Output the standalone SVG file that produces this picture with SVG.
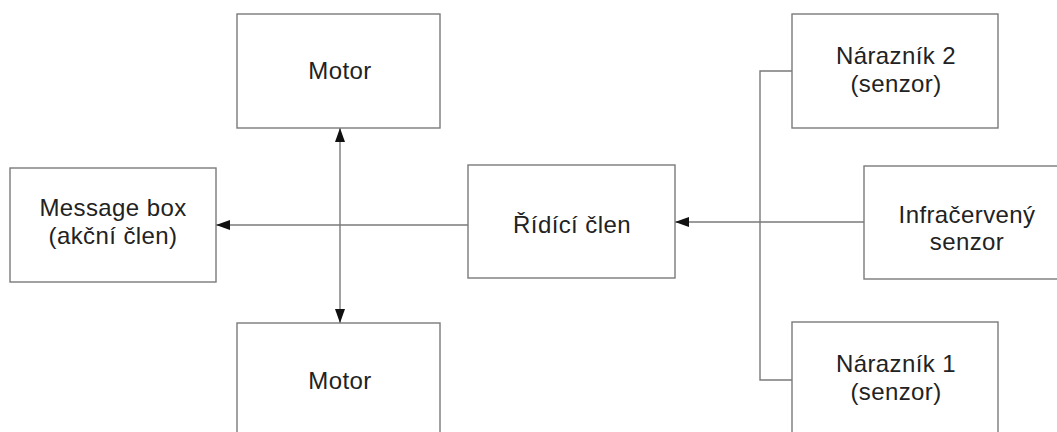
<svg xmlns="http://www.w3.org/2000/svg" width="1057" height="432" viewBox="0 0 1057 432">
  <style>
    .box { fill: #ffffff; stroke: #7a7a7a; stroke-width: 1.4; }
    .lbl { font-family: "Liberation Sans", Arial, sans-serif; font-size: 24px; letter-spacing: 0.4px; fill: #222222; text-anchor: middle; }
    .wire { fill: none; stroke: #7a7a7a; stroke-width: 1.4; }
  </style>
  <defs>
    <marker id="arrow" viewBox="0 0 14 10" refX="14" refY="5" markerWidth="14" markerHeight="10" markerUnits="userSpaceOnUse" orient="auto-start-reverse">
      <path d="M0,0 L14,5 L0,10 Z" fill="#111111"/>
    </marker>
  </defs>

  <rect width="1057" height="432" fill="#ffffff"/>

  <!-- connectors -->
  <g id="connectors">
    <!-- control unit to message box -->
    <line class="wire" x1="468" y1="225" x2="216" y2="225" marker-end="url(#arrow)"/>
    <!-- motor link, arrows at both ends -->
    <line class="wire" x1="340" y1="128" x2="340" y2="323" marker-start="url(#arrow)" marker-end="url(#arrow)"/>
    <!-- sensor bus -->
    <polyline class="wire" points="792,71 760,71 760,380 792,380"/>
    <line class="wire" x1="864" y1="222" x2="675" y2="222" marker-end="url(#arrow)"/>
  </g>

  <g id="motor-top">
    <rect class="box" x="237" y="14" width="203" height="114"/>
    <text class="lbl" x="340" y="79">Motor</text>
  </g>

  <g id="motor-bottom">
    <rect class="box" x="237" y="323" width="203" height="120"/>
    <text class="lbl" x="340" y="389">Motor</text>
  </g>

  <g id="message-box">
    <rect class="box" x="10" y="168" width="206" height="114"/>
    <text class="lbl" x="113" y="216">Message box</text>
    <text class="lbl" x="113" y="244">(akční člen)</text>
  </g>

  <g id="control-unit">
    <rect class="box" x="468" y="165" width="207" height="113"/>
    <text class="lbl" x="572" y="233">Řídící člen</text>
  </g>

  <g id="bumper-2">
    <rect class="box" x="792" y="14" width="206" height="114"/>
    <text class="lbl" x="896" y="64">Nárazník 2</text>
    <text class="lbl" x="896" y="92">(senzor)</text>
  </g>

  <g id="ir-sensor">
    <rect class="box" x="864" y="166" width="206" height="113"/>
    <text class="lbl" x="967" y="223">Infračervený</text>
    <text class="lbl" x="967" y="250">senzor</text>
  </g>

  <g id="bumper-1">
    <rect class="box" x="792" y="322" width="206" height="120"/>
    <text class="lbl" x="896" y="372">Nárazník 1</text>
    <text class="lbl" x="896" y="400">(senzor)</text>
  </g>
</svg>
